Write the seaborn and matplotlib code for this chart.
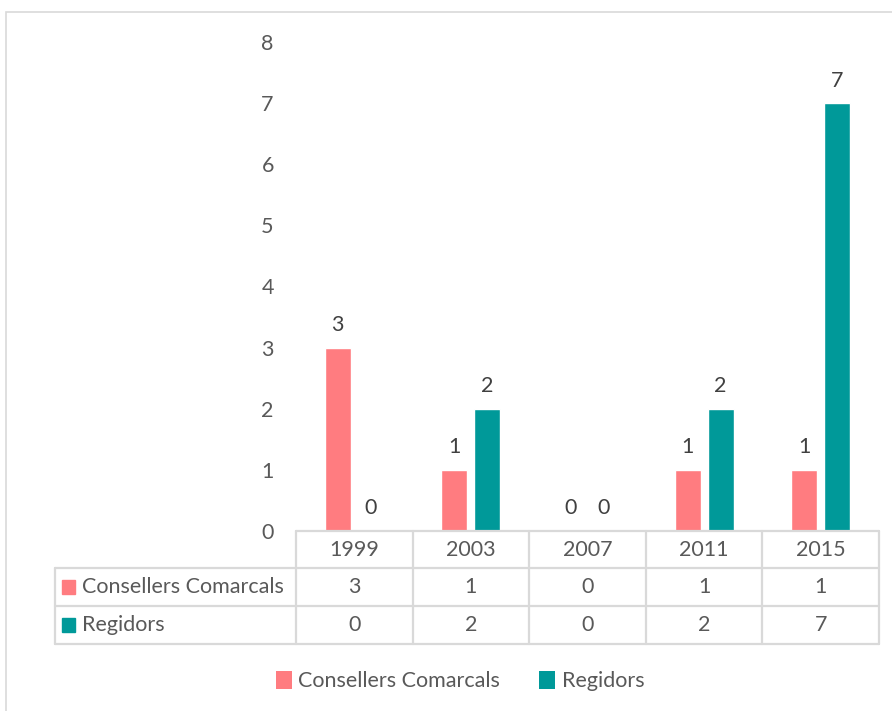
import matplotlib
matplotlib.use("Agg")
import matplotlib.pyplot as plt
from matplotlib.patches import Rectangle, Patch
from matplotlib.lines import Line2D
import seaborn as sns
import pandas as pd

# Electes per convocatòria
anys = ["1999", "2003", "2007", "2011", "2015"]
series = ["Consellers Comarcals", "Regidors"]
consellers = [3, 1, 0, 1, 1]
regidors = [0, 2, 0, 2, 7]
y_ticks = [0, 1, 2, 3, 4, 5, 6, 7, 8]

colors = {"Consellers Comarcals": "#FF7C80", "Regidors": "#009999"}
text_col = "#595959"
label_col = "#404040"
grid_col = "#D9D9D9"

df = pd.DataFrame({
    "Any": anys * 2,
    "Serie": [series[0]] * len(anys) + [series[1]] * len(anys),
    "Nombre": consellers + regidors,
})

sns.set_theme(style="white")
plt.rcParams["font.family"] = ["Lato", "DejaVu Sans"]
FS = 15.5

W, H = 892, 711
fig = plt.figure(figsize=(W / 100, H / 100), dpi=100)


def fx(x):
    return x / W


def fy(y):
    return 1 - y / H


# plot area (pixel box)
L, R, T, B = 296, 879, 42, 531
ax = fig.add_axes([fx(L), fy(B), fx(R) - fx(L), fy(T) - fy(B)])

sns.barplot(data=df, x="Any", y="Nombre", hue="Serie", order=anys,
            hue_order=series, palette=colors, width=0.566, gap=0.21,
            saturation=1, ax=ax, legend=False)

for cont in ax.containers:
    ax.bar_label(cont, fmt="%d", padding=9, fontsize=FS, color=label_col)

ax.set_xlim(-0.5, len(anys) - 0.5)
ax.set_ylim(0, 8)
ax.set_yticks(y_ticks)
ax.set_yticklabels([str(v) for v in y_ticks], fontsize=FS, color=text_col)
ax.tick_params(axis="y", length=0, pad=16)
ax.set_xticks([])
ax.set_xlabel("")
ax.set_ylabel("")
for s in ax.spines.values():
    s.set_visible(False)

# outer chart frame
fig.patches.append(Rectangle((fx(6), fy(760)), fx(950) - fx(6), fy(12) - fy(760),
                             transform=fig.transFigure, fill=False,
                             edgecolor=grid_col, lw=1.2))

# data table
col_w = (R - L) / len(anys)
rows_y = [531, 568, 606, 644]
tab_left = 55


def hline(y, x0, x1):
    fig.add_artist(Line2D([fx(x0), fx(x1)], [fy(y), fy(y)], transform=fig.transFigure,
                          color=grid_col, lw=1.6))


def vline(x, y0, y1):
    fig.add_artist(Line2D([fx(x), fx(x)], [fy(y0), fy(y1)], transform=fig.transFigure,
                          color=grid_col, lw=1.6))


hline(rows_y[0], L, R)
for y in rows_y[1:]:
    hline(y, tab_left, R)
vline(tab_left, rows_y[1], rows_y[3])
for i in range(len(anys) + 1):
    vline(L + i * col_w, rows_y[0], rows_y[3])

for i, a in enumerate(anys):
    cx = L + (i + 0.5) * col_w
    fig.text(fx(cx), fy((rows_y[0] + rows_y[1]) / 2), a, ha="center", va="center",
             fontsize=FS, color=text_col)
    for r, vals in enumerate([consellers, regidors]):
        yc = (rows_y[r + 1] + rows_y[r + 2]) / 2
        fig.text(fx(cx), fy(yc), str(vals[i]), ha="center", va="center",
                 fontsize=FS, color=text_col)

for r, name in enumerate(series):
    yc = (rows_y[r + 1] + rows_y[r + 2]) / 2
    fig.patches.append(Rectangle((fx(62), fy(yc + 7)), fx(13), 14 / H,
                                 transform=fig.transFigure, color=colors[name]))
    fig.text(fx(82), fy(yc), name, ha="left", va="center", fontsize=FS, color=text_col)

# legend
handles = [Patch(facecolor=colors[s], edgecolor="none") for s in series]
fig.legend(handles, series, loc="center", bbox_to_anchor=(fx(460), fy(681)),
           ncol=2, frameon=False, fontsize=FS, labelcolor=text_col,
           handlelength=0.75, handleheight=0.9, handletextpad=0.3, columnspacing=1.8)

fig.savefig("out.png", dpi=100)
